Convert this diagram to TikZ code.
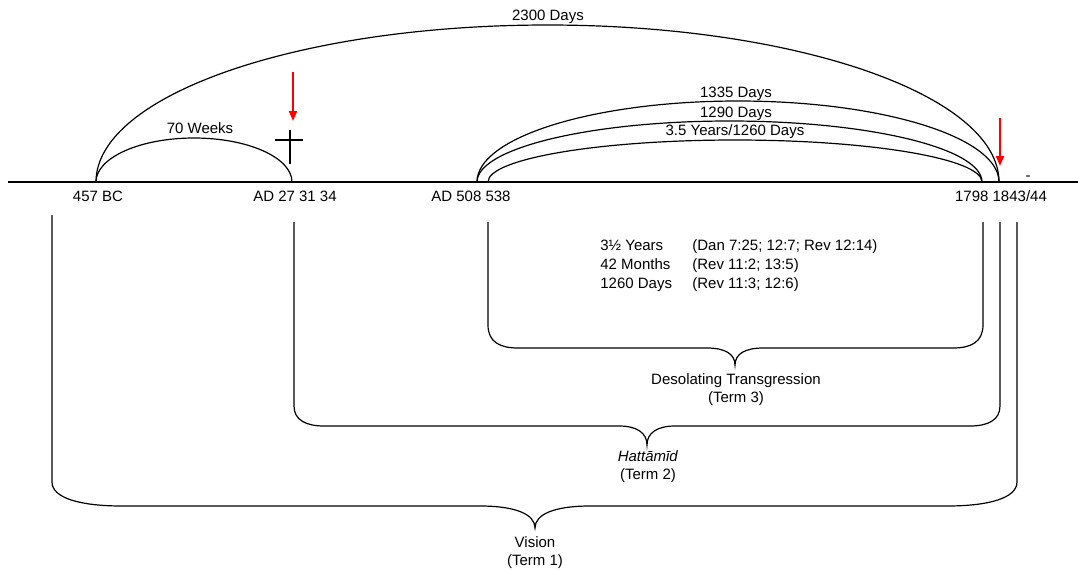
\documentclass[tikz,border=0pt]{standalone}
\usepackage{fontspec}
\setmainfont{Liberation Sans}
\usetikzlibrary{arrows.meta}
\tikzset{
  tl/.style={font=\fontsize{7.5}{9}\selectfont, inner sep=0pt},
  tl date/.style={tl, anchor=base},
  tl span/.style={tl, anchor=base},
  tl ref/.style={tl, anchor=base west},
  tl term/.style={tl, align=center},
  tl line/.style={line width=0.6pt, black},
  tl arr/.style={-{Triangle[length=5pt, width=4pt]}, line width=1pt, red},
}
\begin{document}
\begin{tikzpicture}[x=0.5pt, y=0.5pt]
  \useasboundingbox (0,0) rectangle (1078,-569);
  % points on the time line
  \coordinate (tl west) at (8,-182);
  \coordinate (tl east) at (1078,-182);
  \coordinate (bc457) at (96,-182);
  \coordinate (ad27) at (292,-182);
  \coordinate (ad508) at (477,-182);
  \coordinate (ad538) at (488,-182);
  \coordinate (y1798) at (982,-182);
  \coordinate (y1843) at (999,-182);
  \draw[tl line] (tl west) -- (tl east);
  \node[tl date] (l457) at (98,-201.5) {457 BC};
  \node[tl date] (l27) at (295,-201.5) {AD 27 31 34};
  \node[tl date] (l508) at (471,-201.5) {AD 508 538};
  \node[tl date] (l1798) at (1001,-201.5) {1798 1843/44};
  \node[tl date] (dash) at (1028,-180.5) {-};
  % spans above the line
  \draw[tl line] (bc457) arc[start angle=180, end angle=0, x radius=451.5, y radius=157];
  \draw[tl line] (bc457) arc[start angle=180, end angle=0, x radius=98, y radius=44];
  \draw[tl line] (ad508) arc[start angle=180, end angle=0, x radius=261, y radius=81];
  \draw[tl line] (ad508) arc[start angle=180, end angle=0, x radius=252.5, y radius=61];
  \draw[tl line] (ad538) arc[start angle=180, end angle=0, x radius=247, y radius=42];
  \node[tl span] (s2300) at (548,-20) {2300 Days};
  \node[tl span] (s70) at (200,-133.5) {70 Weeks};
  \node[tl span] (s1335) at (736,-97.5) {1335 Days};
  \node[tl span] (s1290) at (736,-117) {1290 Days};
  \node[tl span] (s1260) at (735,-135.5) {3.5 Years/1260 Days};
  % cross and markers
  \draw[tl line] (290,-130) -- (290,-164) (275,-140) -- (303,-140);
  \coordinate (m1 top) at (293,-72);
  \coordinate (m1 tip) at (293,-121);
  \coordinate (m2 top) at (1000,-118);
  \coordinate (m2 tip) at (1000,-166);
  \draw[tl arr] (m1 top) -- (m1 tip);
  \draw[tl arr] (m2 top) -- (m2 tip);
  % references
  \foreach \n/\p/\r/\y in {1/{3½ Years}/{(Dan 7:25; 12:7; Rev 12:14)}/250.5,
                          2/{42 Months}/{(Rev 11:2; 13:5)}/269.5,
                          3/{1260 Days}/{(Rev 11:3; 12:6)}/288.5}{
    \node[tl ref] (p\n) at (600,-\y) {\p};
    \node[tl ref] (r\n) at (692,-\y) {\r};
  }
  % term 3
  \draw[tl line] (488,-222) -- (488,-325) .. controls (488,-342) and (500,-348) .. (518,-348)
    -- (707,-348) .. controls (725,-348) and (735,-354) .. (735,-365)
    .. controls (735,-354) and (745,-348) .. (763,-348)
    -- (953,-348) .. controls (971,-348) and (983,-342) .. (983,-325) -- (983,-222);
  \node[tl term] (t3) at (736,-389.7) {Desolating Transgression\\(Term 3)};
  % term 2
  \draw[tl line] (294,-222) -- (294,-406) .. controls (294,-420) and (306,-426) .. (324,-426)
    -- (619,-426) .. controls (637,-426) and (647,-433) .. (647,-445)
    .. controls (647,-433) and (657,-426) .. (675,-426)
    -- (970,-426) .. controls (988,-426) and (1000,-420) .. (1000,-406) -- (1000,-222);
  \node[tl term] (t2) at (648,-466.7) {\textit{Hattāmīd}\\(Term 2)};
  % term 1
  \draw[tl line] (52,-215) -- (52,-482) .. controls (52,-498) and (80,-506) .. (122,-506)
    -- (480,-506) .. controls (515,-506) and (535,-514) .. (535,-528)
    .. controls (535,-514) and (555,-506) .. (590,-506)
    -- (947,-506) .. controls (989,-506) and (1017,-498) .. (1017,-482) -- (1017,-222);
  \node[tl term] (t1) at (535,-552.7) {Vision\\(Term 1)};
\end{tikzpicture}
\end{document}
